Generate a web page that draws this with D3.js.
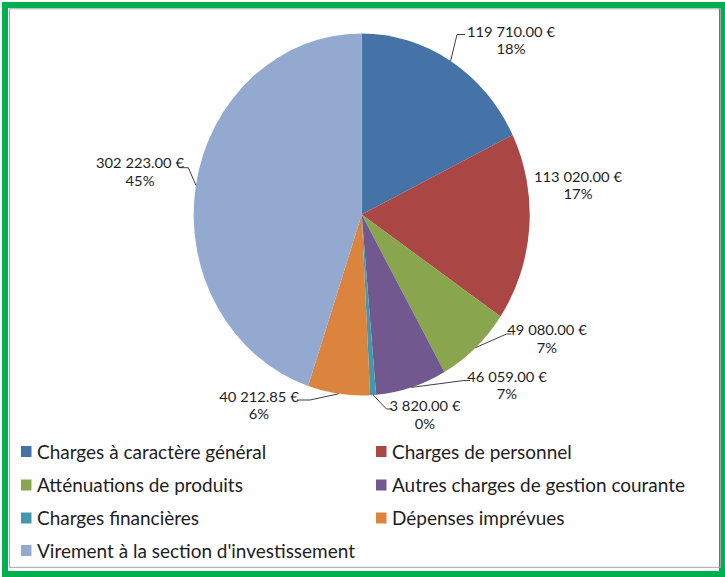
<!DOCTYPE html>
<html>
<head>
<meta charset="utf-8">
<script src="https://cdn.jsdelivr.net/npm/d3@7"></script>
<style>
  html, body { margin: 0; padding: 0; background: #fff; }
  svg { display: block; }
  text { font-family: Lato, "Open Sans", sans-serif; fill: #1e1e1e; }
</style>
</head>
<body>
<svg id="chart" width="725" height="577"></svg>
<script>
// ---- data ----
const categories = [
  "Charges à caractère général",
  "Charges de personnel",
  "Atténuations de produits",
  "Autres charges de gestion courante",
  "Charges financières",
  "Dépenses imprévues",
  "Virement à la section d'investissement"
];
const values = [119710, 113020, 49080, 46059, 3820, 40212.85, 302223];
const pctLabels = ["18%", "17%", "7%", "7%", "0%", "6%", "45%"];
const colors = ["#4572A7", "#AA4643", "#89A54E", "#71588F", "#4198AF", "#DB843D", "#93A9CF"];

// ---- layout (label placement, not data) ----
const labelPos = [ // [center x, first-line baseline]
  [511, 36.5], [578, 181.5], [547, 335], [507, 381.5], [425, 411], [259, 401.5], [140, 168.3]
];
const leaderElbows = [ // [elbow, end] or null
  [[457, 34.5], [465, 34.5]],
  null,
  [[506.5, 334], [511.5, 334]],
  [[464, 380.5], [470, 380.5]],
  [[386.5, 409], [392.5, 409]],
  [[310, 400], [297, 400]],
  [[188.3, 167.7], [180, 167.7]]
];

const W = 725, H = 577;
const cx = 361.7, cy = 214.5, rx = 168, ry = 181;

const svg = d3.select("#chart");

// frame
svg.append("rect").attr("x", 5).attr("y", 5).attr("width", W - 8).attr("height", H - 8)
  .attr("fill", "#fff").attr("stroke", "#00B050").attr("stroke-width", 6);
svg.append("rect").attr("x", 9.5).attr("y", 8.8).attr("width", 711).attr("height", 558.5)
  .attr("fill", "none").attr("stroke", "#a6a6a6").attr("stroke-width", 1);

// pie
const pie = d3.pie().sort(null).value(d => d)(values);
const arc = d3.arc().innerRadius(0).outerRadius(rx);
const g = svg.append("g").attr("transform", `translate(${cx},${cy}) scale(1,${ry / rx})`);
g.selectAll("path").data(pie).join("path")
  .attr("d", arc)
  .attr("fill", (d, i) => colors[i]);

// text helpers
function natWidth(str, size) {
  const t = svg.append("text").attr("font-size", size).text(str);
  const w = t.node().getComputedTextLength();
  t.remove();
  return w;
}
function squeezed(sel, str, size, factor) {
  const w = natWidth(str, size);
  sel.attr("textLength", w * factor).attr("lengthAdjust", "spacingAndGlyphs").text(str);
  return sel;
}

const loc = d3.formatLocale({ decimal: ".", thousands: " ", grouping: [3], currency: ["", ""] });
const fmt = v => loc.format(",.2f")(v) + " €";

const labelSize = 14;
const labelFactor = 88 / natWidth(fmt(values[0]), labelSize);

// leader lines
const lineGen = d3.line();
pie.forEach((d, i) => {
  if (!leaderElbows[i]) return;
  const a = (d.startAngle + d.endAngle) / 2;
  const p0 = [cx + rx * Math.sin(a), cy - ry * Math.cos(a)];
  svg.append("path")
    .attr("d", lineGen([p0, leaderElbows[i][0], leaderElbows[i][1]]))
    .attr("fill", "none").attr("stroke", "#404040").attr("stroke-width", 1);
});

// data labels
pie.forEach((d, i) => {
  const [x, y] = labelPos[i];
  const s1 = fmt(values[i]), s2 = pctLabels[i];
  const w1 = natWidth(s1, labelSize) * labelFactor;
  const w2 = natWidth(s2, labelSize) * labelFactor;
  squeezed(svg.append("text").attr("x", x - w1 / 2).attr("y", y).attr("font-size", labelSize), s1, labelSize, labelFactor);
  squeezed(svg.append("text").attr("x", x - w2 / 2).attr("y", y + 17.8).attr("font-size", labelSize), s2, labelSize, labelFactor);
});

// legend
const legSize = 19.5;
const legFactor = 293 / natWidth(categories[3], legSize);
const colX = [21, 376];
const rowY = [451.5, 485, 518, 550.5];
categories.forEach((c, i) => {
  const col = i % 2, row = Math.floor(i / 2);
  const x = colX[col], y = rowY[row];
  svg.append("rect").attr("x", x).attr("y", y - 5.5).attr("width", 10.5).attr("height", 11)
    .attr("fill", colors[i]);
  squeezed(svg.append("text").attr("x", x + 16).attr("y", y + 7)
    .attr("font-size", legSize), c, legSize, legFactor);
});
</script>
</body>
</html>
